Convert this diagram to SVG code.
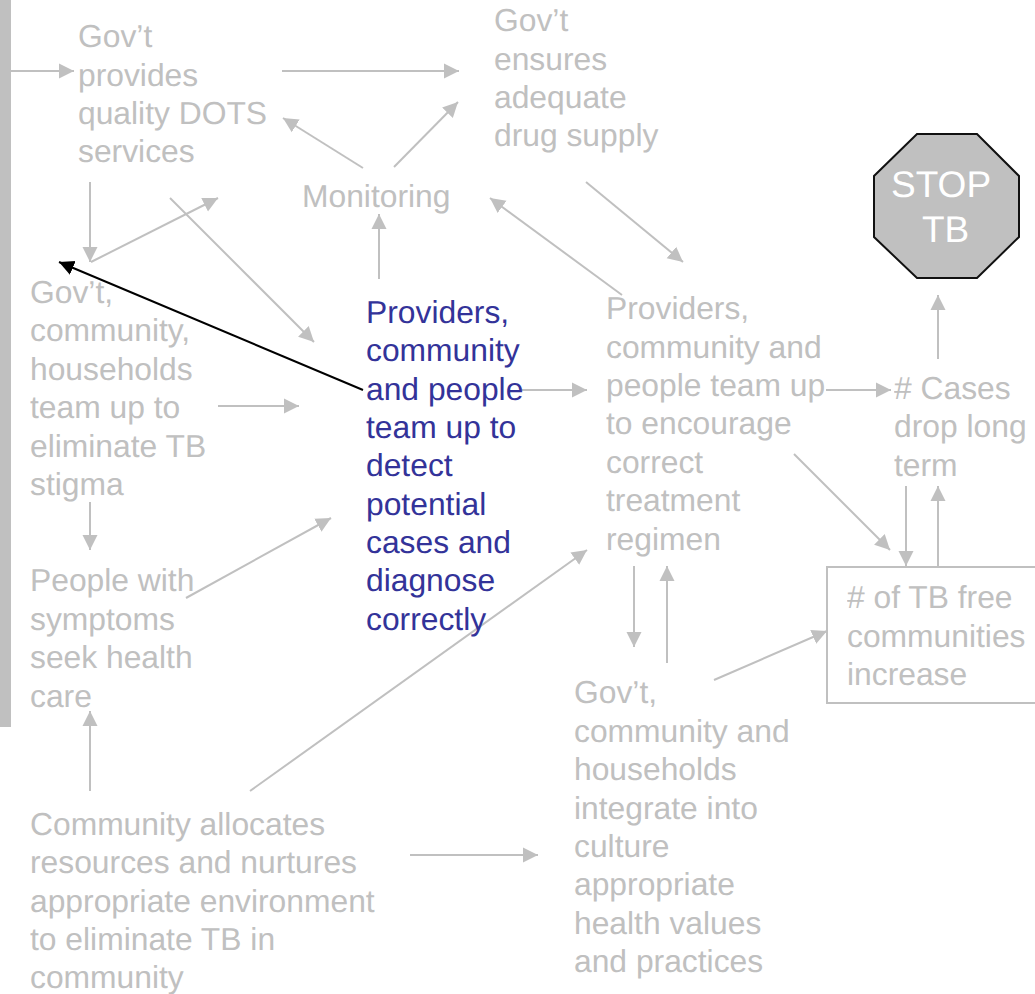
<svg xmlns="http://www.w3.org/2000/svg" width="1035" height="994" viewBox="0 0 1035 994">
<defs>
<marker id="g" markerUnits="userSpaceOnUse" markerWidth="16" markerHeight="16" refX="15" refY="8" orient="auto"><path d="M0 0.5L15 8L0 15.5Z" fill="#c0c0c0"/></marker>
<marker id="k" markerUnits="userSpaceOnUse" markerWidth="16" markerHeight="16" refX="15" refY="8" orient="auto"><path d="M0 0.5L15 8L0 15.5Z" fill="#000"/></marker>
</defs>
<style>
text{font-family:"Liberation Sans",Arial,sans-serif;font-size:31.8px;fill:#c0c0c0;text-rendering:geometricPrecision}
.n{opacity:.999}
.b{fill:#333399}
.w{fill:#fff;font-size:37px}
.c line{stroke:#c0c0c0;stroke-width:2;marker-end:url(#g)}
</style>
<rect x="0" y="0" width="11" height="727" fill="#c0c0c0"/>
<g class="c" id="connectors">
<line x1="11" y1="71" x2="74" y2="71"/>
<line x1="282" y1="71" x2="459" y2="71"/>
<line x1="363" y1="168" x2="283" y2="118"/>
<line x1="394" y1="167" x2="458" y2="102"/>
<line x1="379" y1="279" x2="379" y2="214"/>
<line x1="90" y1="182" x2="90" y2="262"/>
<line x1="91" y1="262" x2="218" y2="198"/>
<line x1="170" y1="198" x2="314" y2="342"/>
<line x1="218" y1="406" x2="299" y2="406"/>
<line x1="90" y1="502" x2="90" y2="550"/>
<line x1="186" y1="598" x2="331" y2="518"/>
<line x1="90" y1="791" x2="90" y2="711"/>
<line x1="250" y1="791" x2="587" y2="550"/>
<line x1="410" y1="855" x2="538" y2="855"/>
<line x1="522" y1="390" x2="587" y2="390"/>
<line x1="622" y1="295" x2="490" y2="198"/>
<line x1="586" y1="182" x2="683" y2="262"/>
<line x1="826" y1="390" x2="891" y2="390"/>
<line x1="938" y1="359" x2="938" y2="295"/>
<line x1="794" y1="454" x2="890" y2="550"/>
<line x1="906" y1="486" x2="906" y2="566"/>
<line x1="938" y1="566" x2="938" y2="486"/>
<line x1="634" y1="566" x2="634" y2="647"/>
<line x1="667" y1="663" x2="667" y2="566"/>
<line x1="714" y1="680" x2="827" y2="631"/>
<line x1="363" y1="390" x2="59" y2="262" style="stroke:#000;marker-end:url(#k)"/>
</g>
<g id="stop"><path d="M917 134H977L1019 176V237L977 278H917L874 237V176Z" fill="#c0c0c0" stroke="#111" stroke-width="2"/>
<g class="n"><text class="w" x="891" y="197">STOP</text><text class="w" x="922" y="242">TB</text></g></g>
<g id="n1" class="n"><text x="78" y="47">Gov’t</text><text x="78" y="86">provides</text><text x="78" y="124">quality DOTS</text><text x="78" y="162">services</text></g>
<g id="n2" class="n"><text x="494" y="31">Gov’t</text><text x="494" y="70">ensures</text><text x="494" y="108">adequate</text><text x="494" y="146">drug supply</text></g>
<g id="n3" class="n"><text x="302" y="207">Monitoring</text></g>
<g id="n4" class="n"><text x="30" y="303">Gov’t,</text><text x="30" y="341">community,</text><text x="30" y="380">households</text><text x="30" y="418">team up to</text><text x="30" y="457">eliminate TB</text><text x="30" y="495">stigma</text></g>
<g id="n5" class="n"><text class="b" x="366" y="323">Providers,</text><text class="b" x="366" y="361">community</text><text class="b" x="366" y="400">and people</text><text class="b" x="366" y="438">team up to</text><text class="b" x="366" y="476">detect</text><text class="b" x="366" y="515">potential</text><text class="b" x="366" y="553">cases and</text><text class="b" x="366" y="591">diagnose</text><text class="b" x="366" y="630">correctly</text></g>
<g id="n6" class="n"><text x="606" y="319">Providers,</text><text x="606" y="358">community and</text><text x="606" y="396">people team up</text><text x="606" y="434">to encourage</text><text x="606" y="473">correct</text><text x="606" y="511">treatment</text><text x="606" y="550">regimen</text></g>
<g id="n7" class="n"><text x="894" y="399"># Cases</text><text x="894" y="437">drop long</text><text x="894" y="476">term</text></g>
<g id="n8"><rect x="827" y="567" width="215" height="136" fill="none" stroke="#c0c0c0" stroke-width="2"/><g class="n"><text x="847" y="608"># of TB free</text><text x="847" y="647">communities</text><text x="847" y="685">increase</text></g></g>
<g id="n9" class="n"><text x="30" y="591">People with</text><text x="30" y="630">symptoms</text><text x="30" y="668">seek health</text><text x="30" y="707">care</text></g>
<g id="n10" class="n"><text x="574" y="703">Gov’t,</text><text x="574" y="742">community and</text><text x="574" y="780">households</text><text x="574" y="819">integrate into</text><text x="574" y="857">culture</text><text x="574" y="895">appropriate</text><text x="574" y="934">health values</text><text x="574" y="972">and practices</text></g>
<g id="n11" class="n"><text x="30" y="835">Community allocates</text><text x="30" y="873">resources and nurtures</text><text x="30" y="912">appropriate environment</text><text x="30" y="950">to eliminate TB in</text><text x="30" y="988">community</text></g>
</svg>
